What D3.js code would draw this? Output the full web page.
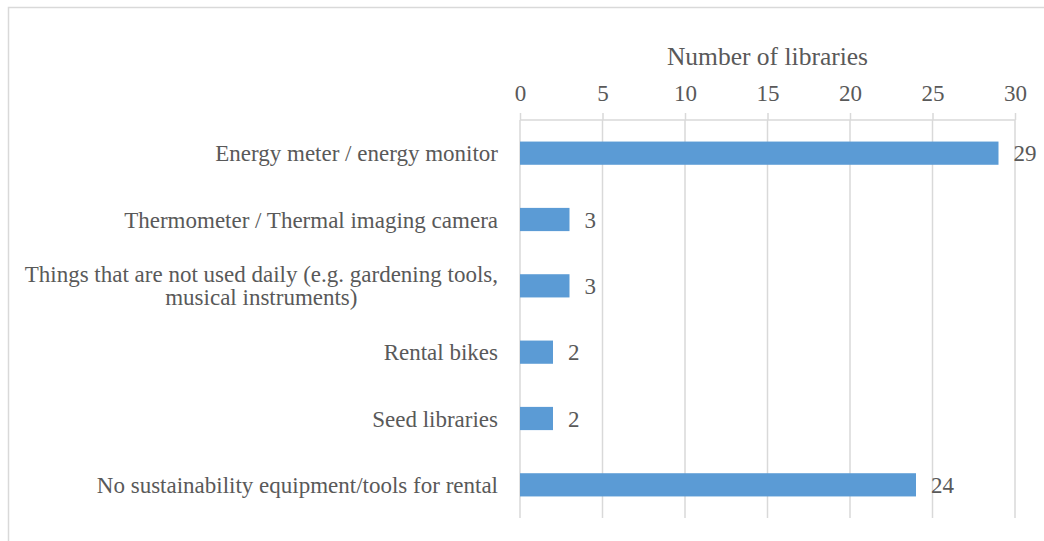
<!DOCTYPE html>
<html>
<head>
<meta charset="utf-8">
<script src="https://cdn.jsdelivr.net/npm/d3@7"></script>
<style>
  body { margin: 0; background: #fff; }
  svg text { font-family: "Liberation Serif", "DejaVu Serif", serif; fill: #595959; }
</style>
</head>
<body>
<div id="chart"></div>
<script>
//- Data
const categories = [
    ["Energy meter / energy monitor"],
    ["Thermometer / Thermal imaging camera"],
    ["Things that are not used daily (e.g. gardening tools,", "musical instruments)"],
    ["Rental bikes"],
    ["Seed libraries"],
    ["No sustainability equipment/tools for rental"]
];
const counts = [29, 3, 3, 2, 2, 24];
const xTicks = [0, 5, 10, 15, 20, 25, 30];
const axisTitle = "Number of libraries";

const WIDTH = 1044, HEIGHT = 541;
const margin = { top: 120, left: 520, right: 29, bottom: 23 };
const plotW = WIDTH - margin.left - margin.right;
const plotH = HEIGHT - margin.top - margin.bottom;
const GRID = "#d9d9d9";
const FONT = 23;

const svg = d3.select("#chart").append("svg")
    .attr("width", WIDTH)
    .attr("height", HEIGHT);

//- Outer frame (runs off the right/bottom edge like the source)
svg.append("rect")
    .attr("x", 8.5).attr("y", 7.5)
    .attr("width", WIDTH + 20).attr("height", HEIGHT + 20)
    .attr("fill", "none").attr("stroke", GRID).attr("stroke-width", 1.5);

const g = svg.append("g").attr("transform", `translate(${margin.left},${margin.top})`);

const x = d3.scaleLinear().domain([0, 30]).range([0, plotW]);
const y = d3.scaleBand().domain(d3.range(categories.length)).range([0, plotH]).paddingInner(0.65).paddingOuter(0.325);

//- Gridlines
g.selectAll(".grid").data(xTicks).enter().append("line")
    .attr("x1", d => x(d)).attr("x2", d => x(d))
    .attr("y1", 0).attr("y2", plotH)
    .attr("stroke", GRID).attr("stroke-width", 1.5);

//- Top axis
const xAxis = d3.axisTop(x).tickValues(xTicks).tickSize(7).tickPadding(12);
const axG = g.append("g").call(xAxis);
axG.select(".domain").attr("stroke", GRID).attr("stroke-width", 1.5).attr("d", `M0,0H${plotW}`);
axG.selectAll(".tick line").attr("stroke", GRID).attr("stroke-width", 1.5);
axG.selectAll(".tick text").attr("font-size", FONT).attr("fill", "#595959")
    .attr("font-family", "Liberation Serif, serif");

g.append("text")
    .attr("x", plotW / 2).attr("y", -55)
    .attr("text-anchor", "middle")
    .attr("font-size", 25.5)
    .text(axisTitle);

//- Bars
g.selectAll(".bar").data(counts).enter().append("rect")
    .attr("x", x(0))
    .attr("y", (d, i) => y(i))
    .attr("width", d => x(d) - x(0))
    .attr("height", y.bandwidth())
    .attr("fill", "#5b9bd5");

//- Value labels
g.selectAll(".val").data(counts).enter().append("text")
    .attr("x", d => x(d) + 15)
    .attr("y", (d, i) => y(i) + y.bandwidth() / 2)
    .attr("dy", "0.35em")
    .attr("font-size", FONT)
    .text(d => d);

//- Category labels (right aligned block, lines centered within)
const LINE_H = 23;
categories.forEach((lines, i) => {
    const cy = y(i) + y.bandwidth() / 2;
    const grp = g.append("g");
    const texts = lines.map((ln, j) => grp.append("text")
        .attr("font-size", FONT)
        .attr("y", cy + (j - (lines.length - 1) / 2) * LINE_H)
        .attr("dy", "0.35em")
        .text(ln));
    const maxW = d3.max(texts, t => t.node().getComputedTextLength());
    texts.forEach(t => t.attr("text-anchor", "middle").attr("x", -22 - maxW / 2));
});
</script>
</body>
</html>
